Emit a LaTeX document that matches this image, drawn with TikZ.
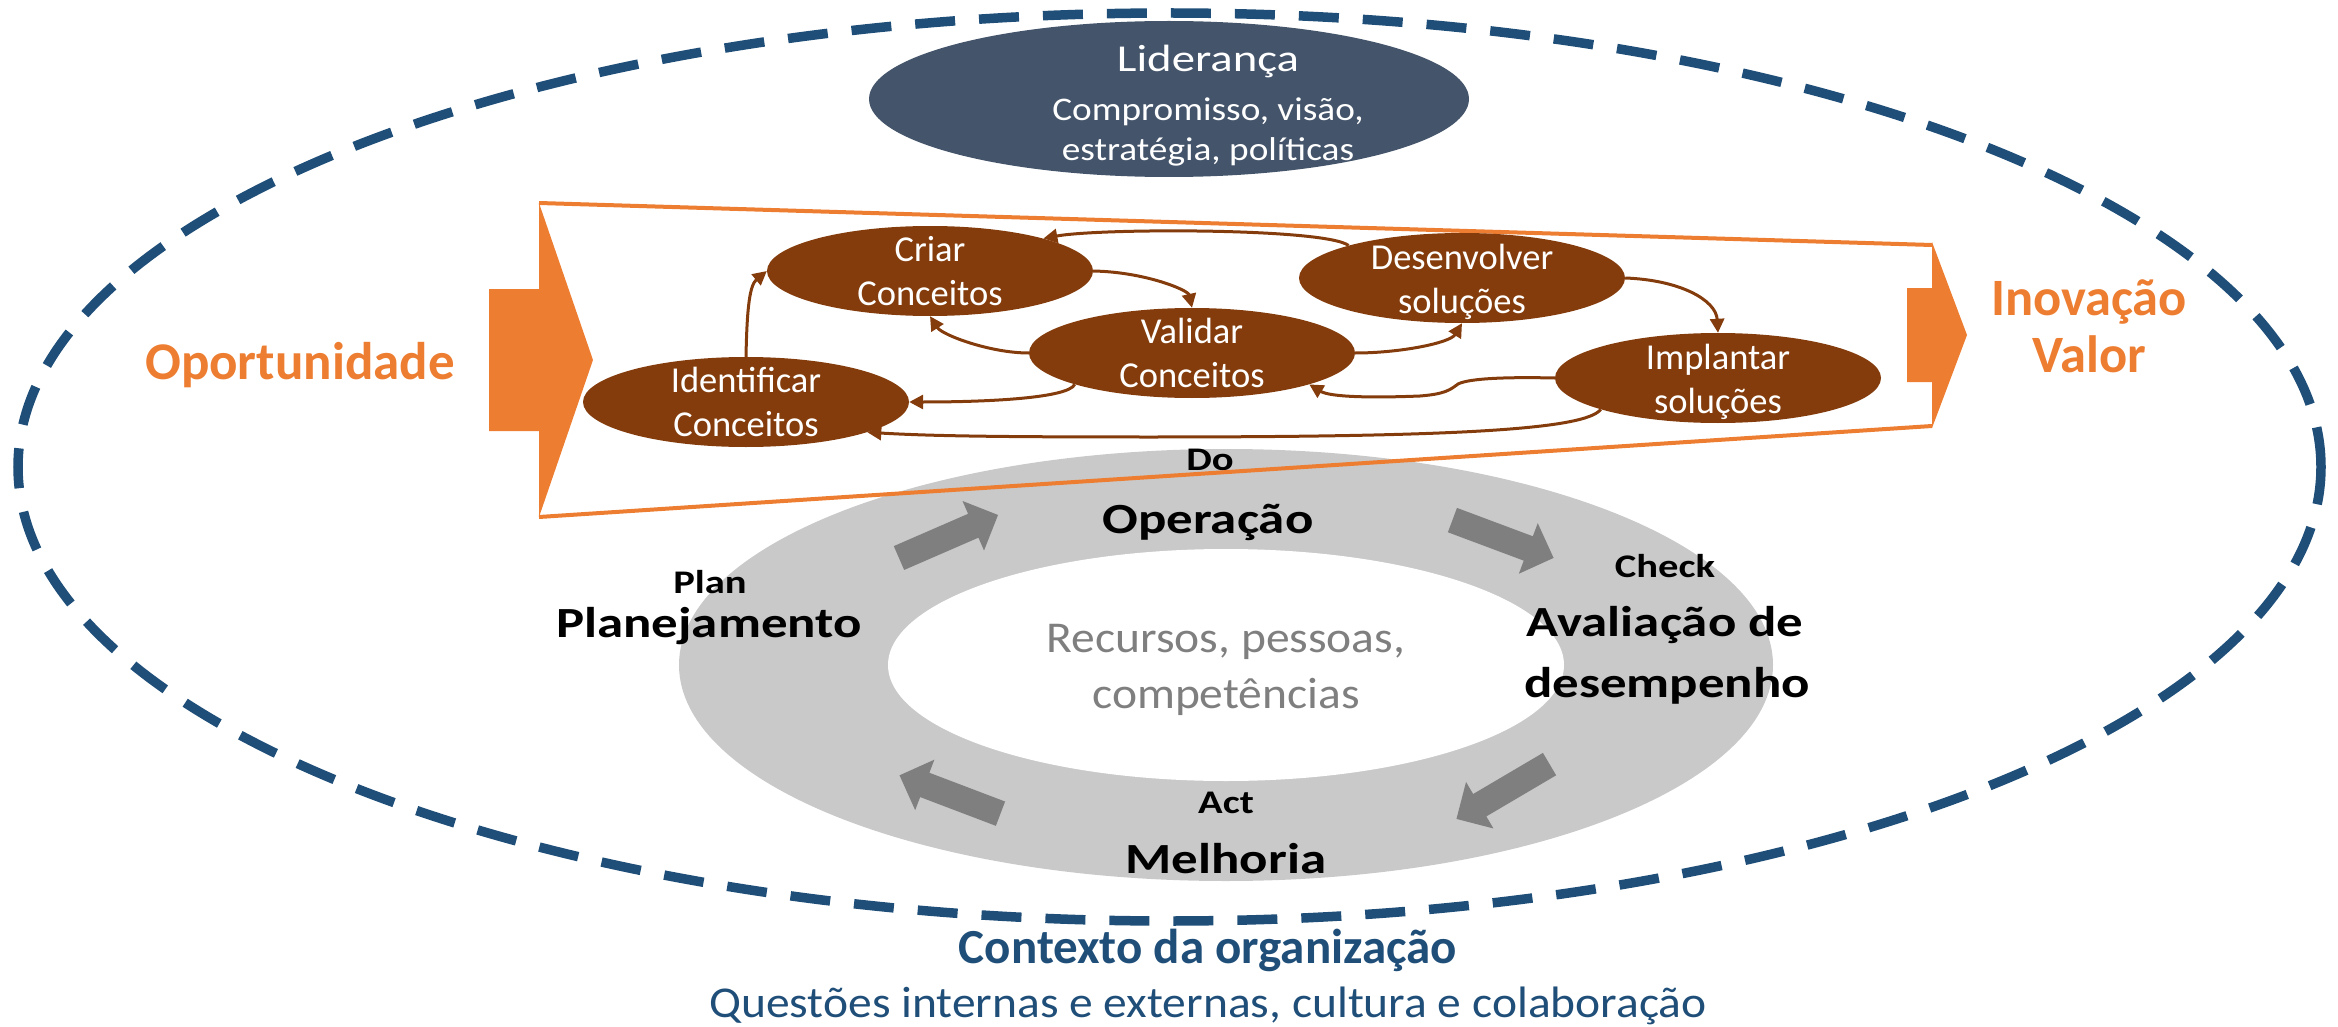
\documentclass[tikz,border=0pt]{standalone}
\usepackage{fontspec}
\setmainfont{Carlito}
\newfontfamily\fT{Carlito}[FakeStretch=1.08]
\newfontfamily\fU{Carlito}[FakeStretch=1.13]
\newfontfamily\fW{Carlito}[FakeStretch=1.23]
\usetikzlibrary{shapes.geometric,arrows.meta}
\definecolor{ctxblue}{HTML}{1F4E79}
\definecolor{slate}{HTML}{44546A}
\definecolor{brownc}{HTML}{843C0C}
\definecolor{orangec}{HTML}{ED7D31}
\definecolor{ringgray}{HTML}{C9C9C9}
\definecolor{arrgray}{HTML}{7F7F7F}
\definecolor{txtgray}{HTML}{7F7F7F}
\begin{document}
\begin{tikzpicture}[x=1pt,y=-1pt,
  brownell/.style={ellipse, fill=brownc, minimum width=326pt, minimum height=90pt, inner sep=0pt},
  brownlab/.style={text=white, align=center, inner sep=0pt, font=\fontsize{36.5}{44}\selectfont},
  conn/.style={draw=brownc, line width=3pt, -{Triangle[length=14pt,width=14pt]}},
  ringsmall/.style={anchor=base, inner sep=0pt, font=\fW\bfseries\fontsize{33}{40}\selectfont},
  ringbig/.style={anchor=base, inner sep=0pt, font=\fW\bfseries\fontsize{43}{52}\selectfont},
  ringgrey/.style={anchor=base, inner sep=0pt, text=txtgray, font=\fT\fontsize{44}{56}\selectfont},
  orangetxt/.style={anchor=base, inner sep=0pt, text=orangec},
  orangeline/.style={draw=orangec, line width=4pt},
  blockarrow/.pic={\fill[arrgray] (-54,-13) -- (27,-13) -- (27,-27) -- (54,0) -- (27,27) -- (27,13) -- (-54,13) -- cycle;}
]
\useasboundingbox (0,0) rectangle (2338,1027);

% context dashed ellipse
\node[ellipse, draw=ctxblue, line width=9.5pt, dash pattern=on 40pt off 24pt,
      minimum width=2303pt, minimum height=908pt, inner sep=0pt] (ctx) at (1169.5,467) {};

% leadership
\node[ellipse, fill=slate, minimum width=600pt, minimum height=156pt, inner sep=0pt] (lid) at (1169,99) {};
\node[anchor=base, inner sep=0pt, text=white, font=\fW\fontsize{38}{46}\selectfont] (lidT) at (1208,72) {Liderança};
\node[inner sep=0pt, text=white, align=center, font=\fU\fontsize{33}{39.3}\selectfont] (lidS) at (1208,132) {Compromisso, visão,\\estratégia, políticas};

% PDCA ring
\node[ellipse, fill=ringgray, minimum width=1094pt, minimum height=432pt, inner sep=0pt] (ring) at (1226,665) {};
\node[ellipse, fill=white, minimum width=676pt, minimum height=232pt, inner sep=0pt] (hole) at (1226,665) {};
\pic (apd) [rotate=23.5] at (948.5,536.5) {blockarrow};
\pic (adc) [rotate=-20.5] at (1503,539) {blockarrow};
\pic (aca) [rotate=210.5] at (1503,791.5) {blockarrow};
\pic (aap) [rotate=159.2] at (950,794.5) {blockarrow};

\node[ringsmall] (doT) at (1210,470) {Do};
\node[ringbig] (opT) at (1208,533) {Operação};
\node[ringsmall] (planT) at (710,593) {Plan};
\node[ringbig] (planB) at (709,637) {Planejamento};
\node[ringsmall] (checkT) at (1665,577) {Check};
\node[ringbig] (checkB1) at (1665,636) {Avaliação de};
\node[ringbig] (checkB2) at (1667,697) {desempenho};
\node[ringsmall] (actT) at (1226,813) {Act};
\node[ringbig] (actB) at (1226,873) {Melhoria};
\node[ringgrey] (res1) at (1226,652) {Recursos, pessoas,};
\node[ringgrey] (res2) at (1226,708) {competências};

% orange funnel
\coordinate (lt) at (539,203);
\coordinate (lb) at (539,517);
\coordinate (rt) at (1932,245);
\coordinate (rb) at (1932,426);
\fill[orangec] (489,289) -- (539,289) -- (lt) -- (593,360) -- (lb) -- (539,431) -- (489,431) -- cycle;
\fill[orangec] (1907,288) -- (1932,288) -- (1932,242) -- (1967,335) -- (1932,428) -- (1932,382) -- (1907,382) -- cycle;
\draw[orangeline] (lt) -- (rt);
\draw[orangeline] (lb) -- (rb);

% innovation process
\node[brownell] (criar) at (930,271) {};
\node[brownell] (valid) at (1192,353) {};
\node[brownell] (ident) at (746,402) {};
\node[brownell] (desen) at (1462,278) {};
\node[brownell] (impl) at (1718,378) {};
\node[brownlab] (criarT) at (930,271) {Criar\\Conceitos};
\node[brownlab] (validT) at (1192,353) {Validar\\Conceitos};
\node[brownlab] (identT) at (746,402) {Identificar\\Conceitos};
\node[brownlab] (desenT) at (1462,282) {Desenvolver\\soluções};
\node[brownlab] (implT) at (1718,382) {Implantar\\soluções};

\draw[conn] (ident.north) .. controls (747,305) and (750,285) .. (criar.west);
\draw[conn] (criar.east) .. controls (1145,272) and (1188,290) .. (valid.north);
\draw[conn] (valid.west) .. controls (990,353) and (942,335) .. (criar.south);
\draw[conn] (valid.east) .. controls (1400,353) and (1450,343) .. (desen.south);
\draw[conn] (desen.164) .. controls (1325,228) and (1100,228) .. (criar.16);
\draw[conn] (desen.east) .. controls (1680,280) and (1716,300) .. (impl.north);
\draw[conn] (impl.west) .. controls (1510,377) and (1470,378) .. (1458,384)
   .. controls (1450,390) and (1445,394) .. (1420,396)
   .. controls (1370,398) and (1330,397) .. (valid.-15);
\draw[conn] (valid.195) .. controls (1068,398) and (990,402) .. (ident.east);
\draw[conn] (impl.195) .. controls (1585,430) and (1450,437) .. (1150,437)
   .. controls (1000,437) and (930,436) .. (ident.-14);

% side labels
\node[orangetxt, font=\bfseries\fontsize{53}{64}\selectfont] (opp) at (300,379) {Oportunidade};
\node[orangetxt, font=\bfseries\fontsize{52.5}{57}\selectfont] (inov1) at (2089,315) {Inovação};
\node[orangetxt, font=\bfseries\fontsize{52.5}{57}\selectfont] (inov2) at (2089,372) {Valor};

% context labels
\node[anchor=base, inner sep=0pt, text=ctxblue, font=\bfseries\fontsize{49}{58}\selectfont] (ctx1) at (1208,963) {Contexto da organização};
\node[anchor=base, inner sep=0pt, text=ctxblue, font=\fT\fontsize{44}{54}\selectfont] (ctx2) at (1208,1017) {Questões internas e externas, cultura e colaboração};
\end{tikzpicture}
\end{document}
